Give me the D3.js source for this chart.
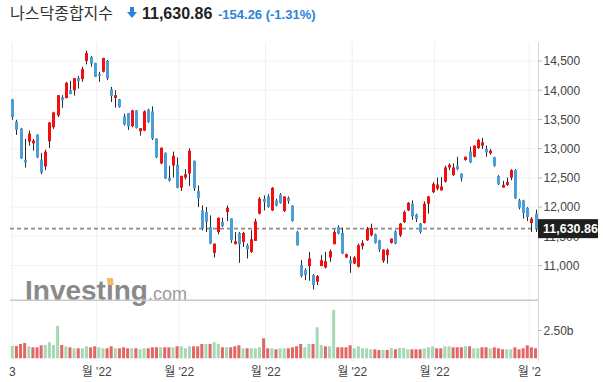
<!DOCTYPE html>
<html><head><meta charset="utf-8">
<script src="https://cdn.jsdelivr.net/npm/d3@7"></script>
<style>html,body{margin:0;padding:0;background:#fff;overflow:hidden}</style>
</head><body>
<svg id="c" width="603" height="382"></svg>
<script>
// Nasdaq Composite daily candles (index 0 = first candle)
const opens  = [13845,13465,13344,12810,13120,13091,13241,12810,12695,13126,13367,13568,13879,13867,14000,14000,14212,14190,14500,14569,14465,14276,14316,14500,14017,13868,13845,13551,13609,13385,13655,13298,13310,13666,13638,13172,12746,12930,12499,12712,12723,12332,12505,12574,12792,12273,11943,11915,11659,11216,11574,11745,11915,11807,11364,11557,11404,11347,11233,11421,11887,12142,12182,11943,12114,12216,11932,12159,12028,11574,11006,10921,10989,10836,10722,10989,10966,11137,11364,11659,11557,11137,11091,11034,10977,11330,11432,11517,11534,11432,11080,11177,11387,11585,11517,11744,11943,12057,11870,11716,11727,12057,12256,12315,12284,12436,12678,12546,12707,12575,12805,12954,12862,13011,13052,12994,12920,12850,12534,12333,12379,12505,12632,12114,12114,11989,11727,11887];
const highs  = [13850,13494,13356,13166,13310,13166,13245,12925,12982,13452,13632,13918,13914,14143,14161,14210,14247,14402,14678,14586,14470,14316,14555,14517,14057,14000,13850,13597,13612,13666,13660,13352,13655,13684,13724,13175,13020,12935,12706,12948,12850,12536,12649,13005,12795,12370,12028,12000,11858,11375,11818,11818,12028,11807,11574,11574,11574,11375,11603,11801,12170,12199,12216,12341,12142,12239,12182,12182,12028,11591,11091,10949,11233,10853,10836,11177,11233,11273,11614,11688,11648,11205,11160,11160,11375,11432,11659,11716,11546,11443,11273,11290,11460,11603,11727,11943,12085,12114,11887,11727,12097,12190,12426,12508,12512,12707,12747,12747,12862,12575,12862,13035,13052,13167,13184,13052,12994,12862,12546,12448,12505,12649,12650,12142,12125,12000,11830,11955];
const lows   = [13494,13235,12825,12677,13051,12965,12838,12562,12631,13011,13338,13540,13700,13860,13930,13908,14028,14144,14442,14402,14225,14143,14304,14172,13798,13700,13700,13396,13321,13367,13345,13224,13300,13440,13149,12838,12735,12480,12436,12505,12321,12275,12476,12361,12275,12000,11603,11574,11364,11137,11534,11659,11762,11387,11364,11046,11318,11120,11216,11421,11875,11943,11989,11932,12011,12057,11915,12057,11750,11340,10796,10750,10739,10590,10665,10989,10949,11063,11364,11534,11194,11130,10875,11025,10966,11273,11421,11500,11375,11233,11046,11034,11375,11364,11489,11727,11932,11784,11744,11546,11720,11887,12239,12285,12284,12419,12632,12534,12632,12436,12793,12755,12850,12994,12994,12862,12897,12690,12379,12333,12362,12459,12140,11960,11801,11761,11574,11574];
const closes = [13540,13321,12833,12764,13258,13137,12850,12591,12948,13448,13620,13914,13833,14126,13936,14207,14155,14362,14638,14454,14230,14245,14552,14201,13902,13914,13712,13413,13379,13655,13350,13350,13638,13453,13172,12850,13016,12488,12453,12879,12332,12534,12562,12965,12321,12153,11631,11744,11375,11375,11818,11676,11989,11432,11415,11364,11557,11279,11449,11756,12142,12085,12000,12330,12028,12068,12182,12102,11761,11347,10819,10836,11120,10665,10819,11091,11074,11245,11574,11546,11205,11194,11034,11137,11347,11387,11631,11642,11387,11273,11273,11268,11460,11375,11716,11915,12074,11841,11801,11574,12057,12182,12398,12385,12352,12678,12724,12678,12649,12494,12862,12764,13052,13150,13109,12937,12965,12707,12390,12379,12431,12632,12150,11989,11898,11830,11801,11630.86];
// volume, billions
const volumes = [1.11,1.11,1.29,1.38,1.08,0.99,0.99,1.17,1.20,1.44,1.20,2.91,1.20,1.08,0.99,0.90,0.90,0.90,1.08,0.99,1.08,0.99,0.90,0.90,1.08,0.90,0.90,0.99,0.90,0.90,0.90,0.81,0.90,0.90,0.99,0.99,0.99,0.99,0.99,0.99,1.08,1.08,0.90,1.08,1.08,1.08,1.29,1.29,1.29,1.44,1.29,0.99,0.99,0.99,1.08,1.17,0.90,0.90,0.90,0.90,0.99,1.80,0.90,0.90,0.81,0.90,0.90,0.90,0.99,1.08,1.29,0.99,1.29,1.29,2.79,1.20,1.08,1.08,4.35,0.99,0.99,0.99,1.17,0.90,1.08,0.90,0.90,0.81,0.81,0.75,0.75,0.75,0.93,0.81,0.93,0.93,0.81,0.81,0.81,0.81,0.90,0.99,1.08,0.90,0.90,1.08,1.08,0.99,0.99,0.99,1.08,1.08,0.90,0.90,0.99,0.99,0.90,0.99,0.90,0.81,0.81,0.81,0.99,0.81,0.90,1.17,0.99,0.90];
const priceTicks = [11000,11500,12000,12500,13000,13500,14000,14500];
const volTicks = [2.5];
const monthTicks = [0,20.5,40.5,61.5,82.5,102.5,125.5];
const monthLabels = ["3","월 '22","월 '22","월 '22","월 '22","월 '22","월 '2"];
const title = "나스닥종합지수";
const lastPrice = 11630.86;
const change = "-154.26", changePct = "(-1.31%)";

const svg = d3.select("#c");
const L = 10, R = 538;
const x = d3.scaleLinear().domain([0, closes.length - 1]).range([12.3, 535.5]);
const y = d3.scaleLinear().domain([11000, 14500]).range([265.5, 61]);
const yv = d3.scaleLinear().domain([0, 2.5]).range([358.3, 330.5]);
const fmt = d3.format(",");
const UP = "#f20f0f", DN = "#4c9ed8";

// grid
svg.append("g").selectAll("line").data(priceTicks).join("line")
  .attr("x1", L).attr("x2", R).attr("y1", d => y(d)).attr("y2", d => y(d))
  .attr("stroke", "#f2f2f2");
svg.append("g").selectAll("line").data(monthTicks).join("line")
  .attr("x1", d => x(d)).attr("x2", d => x(d)).attr("y1", 42).attr("y2", 362)
  .attr("stroke", "#efefef");

// watermark
const wm = svg.append("g");
const inv = wm.append("text").attr("x", 25).attr("y", 300)
  .attr("font-family", "Liberation Sans, Arial, sans-serif").attr("font-weight", "bold")
  .attr("font-size", 28).attr("fill", "#8a8a8a").text("Investing");
const invW = inv.node().getComputedTextLength();
wm.append("text").attr("x", 25 + invW).attr("y", 300)
  .attr("font-family", "Liberation Sans, Arial, sans-serif")
  .attr("font-size", 18).attr("fill", "#9a9a9a").text(".com");
try {
  const ex = inv.node().getExtentOfChar(6);
  const cx = ex.x + ex.width / 2;
  wm.append("rect").attr("x", ex.x).attr("y", 277).attr("width", ex.width).attr("height", 8).attr("fill", "#fff");
  wm.append("polygon").attr("points", `${cx-2},${285} ${cx+4},${285} ${cx+3},${278} ${cx-3},${278}`).attr("fill", "#f6b860");
} catch (e) {}

// separator
svg.append("line").attr("x1", L).attr("x2", R).attr("y1", 300.3).attr("y2", 300.3)
  .attr("stroke", "#cacaca").attr("stroke-width", 1.5);

// last price dashed line
svg.append("line").attr("x1", L).attr("x2", R).attr("y1", y(lastPrice)).attr("y2", y(lastPrice))
  .attr("stroke", "#8c8c8c").attr("stroke-width", 1.6).attr("stroke-dasharray", "4,3");

// volume
svg.append("g").selectAll("rect").data(volumes).join("rect")
  .attr("x", (d, i) => x(i) - 1.5).attr("width", 3)
  .attr("y", d => yv(d)).attr("height", d => yv(0) - yv(d))
  .attr("fill", (d, i) => (i === 0 || closes[i] >= closes[i - 1]) ? "#a6d8b6" : "#e26666");

// candles
const cg = svg.append("g");
cg.selectAll("line").data(closes).join("line")
  .attr("x1", (d, i) => Math.round(x(i)) + 0.5).attr("x2", (d, i) => Math.round(x(i)) + 0.5)
  .attr("y1", (d, i) => y(highs[i])).attr("y2", (d, i) => y(lows[i]))
  .attr("stroke", "#2a2a2a").attr("stroke-width", 1);
cg.selectAll("rect").data(closes).join("rect")
  .attr("x", (d, i) => Math.round(x(i)) - 1).attr("width", 3)
  .attr("y", (d, i) => y(Math.max(opens[i], d)))
  .attr("height", (d, i) => Math.max(1, Math.abs(y(opens[i]) - y(d))))
  .attr("fill", (d, i) => d >= opens[i] ? UP : DN);

// right axis
svg.append("line").attr("x1", R + 0.5).attr("x2", R + 0.5).attr("y1", 42).attr("y2", 362)
  .attr("stroke", "#d8d8d8");
const ax = svg.append("g").attr("font-family", "Liberation Sans, Arial, sans-serif").attr("font-size", 12).attr("fill", "#444");
ax.selectAll("line.p").data(priceTicks).join("line").attr("class", "p")
  .attr("x1", R).attr("x2", R + 4).attr("y1", d => y(d)).attr("y2", d => y(d)).attr("stroke", "#bbb");
ax.selectAll("text.p").data(priceTicks).join("text").attr("class", "p")
  .attr("x", R + 5.5).attr("y", d => y(d) + 4.3).text(d => fmt(d));
ax.selectAll("line.v").data(volTicks).join("line").attr("class", "v")
  .attr("x1", R).attr("x2", R + 4).attr("y1", d => yv(d)).attr("y2", d => yv(d)).attr("stroke", "#bbb");
ax.selectAll("text.v").data(volTicks).join("text").attr("class", "v")
  .attr("x", R + 5.5).attr("y", d => yv(d) + 4.3).text(d => d3.format(".2f")(d) + "b");

// last price tag
svg.append("rect").attr("x", R).attr("y", y(lastPrice) - 9.5).attr("width", 60).attr("height", 19).attr("fill", "#1f1f1f");
svg.append("text").attr("x", R + 5).attr("y", y(lastPrice) + 4.5)
  .attr("font-family", "Liberation Sans, Arial, sans-serif").attr("font-size", 12.5).attr("font-weight", "bold")
  .attr("fill", "#fff").text(d3.format(",.2f")(lastPrice));

// x labels
svg.append("g").selectAll("text").data(monthTicks).join("text")
  .attr("x", d => x(d)).attr("y", 376).attr("text-anchor", "middle")
  .attr("font-family", "Liberation Sans, Arial, 'Noto Sans CJK KR', sans-serif").attr("font-size", 12).attr("fill", "#444")
  .text((d, i) => monthLabels[i]);

// header
svg.append("text").attr("x", 10).attr("y", 19).attr("font-family", "'Noto Sans CJK KR', sans-serif")
  .attr("font-size", 16).attr("fill", "#333").text(title);
svg.append("path").attr("d", "M130,7 h4 v5 h3 l-5,6 l-5,-6 h3 z").attr("fill", "#2b84d8");
const pt = svg.append("text").attr("x", 142).attr("y", 19).attr("font-family", "Liberation Sans, Arial, sans-serif")
  .attr("font-size", 16).attr("font-weight", "bold").attr("fill", "#222").text(d3.format(",.2f")(lastPrice));
svg.append("text").attr("x", 218).attr("y", 19).attr("font-family", "Liberation Sans, Arial, sans-serif")
  .attr("font-size", 13).attr("font-weight", "bold").attr("fill", "#2b84d8").text(change + " " + changePct);
</script>
</body></html>
